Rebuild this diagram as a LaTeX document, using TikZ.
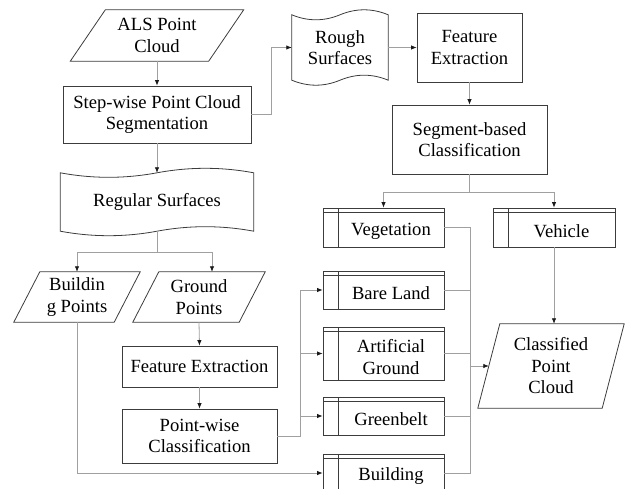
\documentclass[tikz,border=0pt]{standalone}
\usepackage{fontspec}
\setmainfont{Liberation Serif}
\usepackage{tikz}
\usetikzlibrary{positioning,arrows.meta,calc}
\definecolor{BoxLine}{HTML}{3C3C3C}
\definecolor{LinkGray}{HTML}{A0A0A0}
\definecolor{TipBlack}{HTML}{1A1A1A}

\tikzset{
  boxline/.style={draw=BoxLine, line width=0.8pt},
  procbox/.style={boxline, align=center, inner sep=0pt},
  plainbox/.style={align=center, inner sep=0pt},
  clslabel/.style={align=center, xshift=7.5pt, yshift=-3.5pt},
  classbox/.style={boxline, inner sep=0pt, minimum width=121pt,
    path picture={
      \draw[boxline] ([yshift=-4.5pt]path picture bounding box.north west) -- ([yshift=-4.5pt]path picture bounding box.north east)
        ([xshift=15pt]path picture bounding box.north west) -- ([xshift=15pt]path picture bounding box.south west);},
    label={[clslabel]center:#1}},
  wire/.style={draw=LinkGray, line width=0.8pt},
  link/.style={wire, -{Latex[length=5.5pt,width=4.5pt,color=TipBlack]}},
}

% parallelogram outline round a node
\newcommand{\slantbox}[2]{%
  \draw[boxline] ($(#1.north west)+(#2,0)$) -- (#1.north east)
    -- ($(#1.south east)-(#2,0)$) -- (#1.south west) -- cycle;}
% punched tape outline round a node
\newcommand{\tapebox}[2]{%
  \draw[boxline] let \p1=(#1.north west), \p2=(#1.south east),
      \n1={(\x2-\x1)/6}, \n2={#2*4/3*1pt} in
    (\x1,\y1) .. controls ({\x1+\n1},{\y1-\n2}) and ({\x1+2*\n1},{\y1-\n2}) .. ({\x1+3*\n1},\y1)
      .. controls ({\x1+4*\n1},{\y1+\n2}) and ({\x1+5*\n1},{\y1+\n2}) .. (\x2,\y1)
    -- (\x2,\y2)
      .. controls ({\x1+5*\n1},{\y2+\n2}) and ({\x1+4*\n1},{\y2+\n2}) .. ({\x1+3*\n1},\y2)
      .. controls ({\x1+2*\n1},{\y2-\n2}) and ({\x1+\n1},{\y2-\n2}) .. (\x1,\y2) -- cycle;}

\begin{document}
\begin{tikzpicture}[x=1pt,y=-1pt,font=\fontsize{18.6pt}{21.5pt}\selectfont]
\useasboundingbox (0,0) rectangle (628,489);

% left column
\node[plainbox, minimum width=173pt, minimum height=51pt] (als) at (157,35.5) {ALS Point\\Cloud};
\node[procbox, minimum width=188pt, minimum height=57pt] (stepseg) at (157,114.5) {Step-wise Point Cloud\\Segmentation};
\node[plainbox, minimum width=193pt, minimum height=58pt] (regular) at (157,202) {Regular Surfaces};
\node[plainbox, minimum width=126pt, minimum height=50pt] (bpts) at (77,297) {Buildin\\g Points};
\node[plainbox, minimum width=132pt, minimum height=50pt] (gpts) at (199,297) {Ground\\Points};
\node[procbox, minimum width=155pt, minimum height=41pt] (featB) at (199.5,366.5) {Feature Extraction};
\node[procbox, minimum width=155pt, minimum height=54pt] (ptcls) at (199.5,436) {Point-wise\\Classification};

% right part
\node[plainbox, minimum width=96pt, minimum height=65pt] (rough) at (340,47.5) {Rough\\Surfaces};
\node[procbox, minimum width=105pt, minimum height=69pt] (featA) at (469.5,47.5) {Feature\\Extraction};
\node[procbox, minimum width=155pt, minimum height=69pt] (segcls) at (469.5,139.5) {Segment-based\\Classification};
\node[classbox=Vegetation, minimum height=39pt] (veg) at (383.5,227.5) {};
\node[classbox=Vehicle, minimum width=122pt, minimum height=39pt] (veh) at (554,227.5) {};
\node[classbox={Bare Land}, minimum height=38pt] (bare) at (383.5,290) {};
\node[classbox={Artificial\\Ground}, minimum height=53pt] (art) at (383.5,353.5) {};
\node[classbox=Greenbelt, minimum height=38pt] (green) at (383.5,416) {};
\node[classbox=Building, minimum height=38pt] (bldg) at (383.5,473) {};
\node[plainbox, minimum width=146pt, minimum height=84pt] (cpc) at (551,366) {Classified\\Point\\Cloud};

\slantbox{als}{35}
\slantbox{bpts}{26}
\slantbox{gpts}{26}
\slantbox{cpc}{22}
\tapebox{regular}{4.5}
\tapebox{rough}{5}

% connectors
\draw[link] (als) -- (stepseg);
\draw[link] (stepseg) -- (regular);
\draw[link] (stepseg.east) -- ++(20,0) |- (rough.west);
\draw[link] (rough) -- (featA);
\draw[link] (featA) -- (segcls);
\draw[link] (regular.south) -- ++(0,21) -| (bpts.north);
\draw[link] (regular.south) -- ++(0,21) -| ([xshift=13pt]gpts.north);
\draw[link] (gpts.south) -- (featB.north);
\draw[link] (featB) -- (ptcls);
\foreach \c in {bare,art,green}
  \draw[link] (ptcls.east) -- ++(23,0) |- (\c.west);
\draw[link] (bpts.south) |- (bldg.west);
\draw[link] (segcls.south) -- ++(0,18) -| (veg.north);
\draw[link] (segcls.south) -- ++(0,18) -| (veh.north);
\coordinate (merge) at (470,366);
\foreach \c in {veg,bare,art,green,bldg}
  \draw[wire] (\c.east) -| (merge);
\draw[link] (merge) -- ($(cpc.west)+(11,0)$);
\draw[link] (veh.south) -- (veh.south |- cpc.north);
\end{tikzpicture}
\end{document}
